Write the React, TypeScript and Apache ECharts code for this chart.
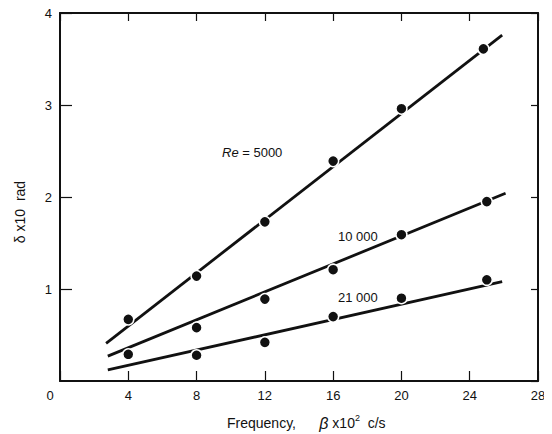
import React, { useEffect, useRef } from "react";
import * as echarts from "echarts";

const xTicks = [0, 4, 8, 12, 16, 20, 24, 28];
const yTicks = [0, 1, 2, 3, 4];

// measured points (frequency β×10², δ×10 rad)
const re5000Pts: [number, number][] = [
  [4, 0.67], [8, 1.14], [12, 1.73], [16, 2.39], [20, 2.96], [24.8, 3.61],
];
const re10000Pts: [number, number][] = [
  [4, 0.29], [8, 0.58], [12, 0.89], [16, 1.21], [20, 1.59], [25, 1.95],
];
const re21000Pts: [number, number][] = [
  [8, 0.28], [12, 0.42], [16, 0.7], [20, 0.9], [25, 1.1],
];

// fitted lines (end points)
const re5000Line: [number, number][] = [[2.7, 0.41], [25.9, 3.76]];
const re10000Line: [number, number][] = [[2.8, 0.27], [26.1, 2.04]];
const re21000Line: [number, number][] = [[2.8, 0.12], [25.9, 1.08]];

const FONT = "Liberation Sans";

export default function App() {
  const ref = useRef<HTMLDivElement>(null);
  useEffect(() => {
    if (!ref.current) return;
    const chart = echarts.init(ref.current, undefined, { renderer: "svg" });
    const lineStyle = { color: "#111", width: 2.8 };
    const mkLine = (name: string, d: [number, number][]) => ({
      name,
      type: "line",
      data: d,
      showSymbol: false,
      symbol: "none",
      lineStyle,
      z: 2,
    });
    const mkPts = (name: string, d: [number, number][]) => ({
      name,
      type: "scatter",
      data: d,
      symbolSize: 11,
      itemStyle: { color: "#111", opacity: 1, borderColor: "#fff", borderWidth: 1.5 },
      z: 3,
    });
    const axisLineStyle = { onZero: false, lineStyle: { color: "#111", width: 2 } };
    const tickStyle = { color: "#111", width: 1.2 };
    chart.setOption({
      animation: false,
      backgroundColor: "#fff",
      grid: { left: 60, top: 13, right: 14, bottom: 53, containLabel: false },
      xAxis: [
        {
          type: "value",
          min: 0,
          max: 28,
          interval: 4,
          axisLine: { show: true, ...axisLineStyle },
          axisTick: { inside: true, length: 10, lineStyle: tickStyle },
          splitLine: { show: false },
          axisLabel: {
            color: "#111",
            fontFamily: FONT,
            fontSize: 13,
            margin: 8,
            formatter: (v: number) => (v === 0 ? "{z|0}" : String(v)),
            rich: { z: { fontFamily: FONT, fontSize: 13, color: "#111", padding: [0, 20, 0, 0] } },
          },
        },
        {
          type: "value",
          position: "top",
          min: 0,
          max: 28,
          interval: 4,
          axisLine: { show: true, ...axisLineStyle },
          axisTick: { inside: true, length: 8, lineStyle: tickStyle },
          axisLabel: { show: false },
          splitLine: { show: false },
        },
      ],
      yAxis: [
        {
          type: "value",
          min: 0,
          max: 4,
          interval: 1,
          axisLine: { show: true, ...axisLineStyle },
          axisTick: { show: true, inside: true, length: 12, lineStyle: tickStyle },
          splitLine: { show: false },
          axisLabel: {
            color: "#111",
            fontFamily: FONT,
            fontSize: 13,
            margin: 8,
            showMinLabel: false,
            formatter: (v: number) => (v === 0 ? "" : String(v)),
          },
        },
        {
          type: "value",
          position: "right",
          min: 0,
          max: 4,
          interval: 1,
          axisLine: { show: true, ...axisLineStyle },
          axisTick: { show: true, inside: true, length: 7, lineStyle: tickStyle },
          axisLabel: { show: false },
          splitLine: { show: false },
        },
      ],
      series: [
        mkLine("Re=5000 fit", re5000Line),
        mkLine("Re=10000 fit", re10000Line),
        mkLine("Re=21000 fit", re21000Line),
        mkPts("Re=5000", re5000Pts),
        mkPts("Re=10000", re10000Pts),
        mkPts("Re=21000", re21000Pts),
      ],
      graphic: [
        {
          type: "text",
          x: 222,
          y: 152,
          style: {
            text: "{i|Re}{n| = 5000}",
            verticalAlign: "middle",
            rich: {
              i: { fontFamily: FONT, fontSize: 13, fontStyle: "italic", fill: "#111" },
              n: { fontFamily: FONT, fontSize: 13, fill: "#111" },
            },
          },
        },
        {
          type: "text",
          x: 338,
          y: 236,
          style: { text: "10 000", fontFamily: FONT, fontSize: 13, fill: "#111", verticalAlign: "middle" },
        },
        {
          type: "text",
          x: 338,
          y: 297,
          style: { text: "21 000", fontFamily: FONT, fontSize: 13, fill: "#111", verticalAlign: "middle" },
        },
        {
          type: "text",
          x: 20,
          y: 212,
          rotation: Math.PI / 2,
          style: {
            text: "δ x10  rad",
            fontFamily: FONT,
            fontSize: 14,
            fill: "#111",
            align: "center",
            verticalAlign: "middle",
          },
        },
        {
          type: "text",
          x: 227,
          y: 423,
          style: {
            text: "{n|Frequency,}{g|      }{b|β}{n| x10}{s|2}{n|  c/s}",
            verticalAlign: "middle",
            rich: {
              n: { fontFamily: FONT, fontSize: 14, fill: "#111" },
              g: { fontFamily: FONT, fontSize: 14 },
              b: { fontFamily: FONT, fontSize: 16, fontStyle: "italic", fill: "#111" },
              s: { fontFamily: FONT, fontSize: 9, fill: "#111", verticalAlign: "top", padding: [0, 0, 10, 0] },
            },
          },
        },
      ],
    });
    return () => chart.dispose();
  }, []);
  return <div ref={ref} style={{ width: 552, height: 434, marginLeft: -8, marginTop: -8 }} />;
}
